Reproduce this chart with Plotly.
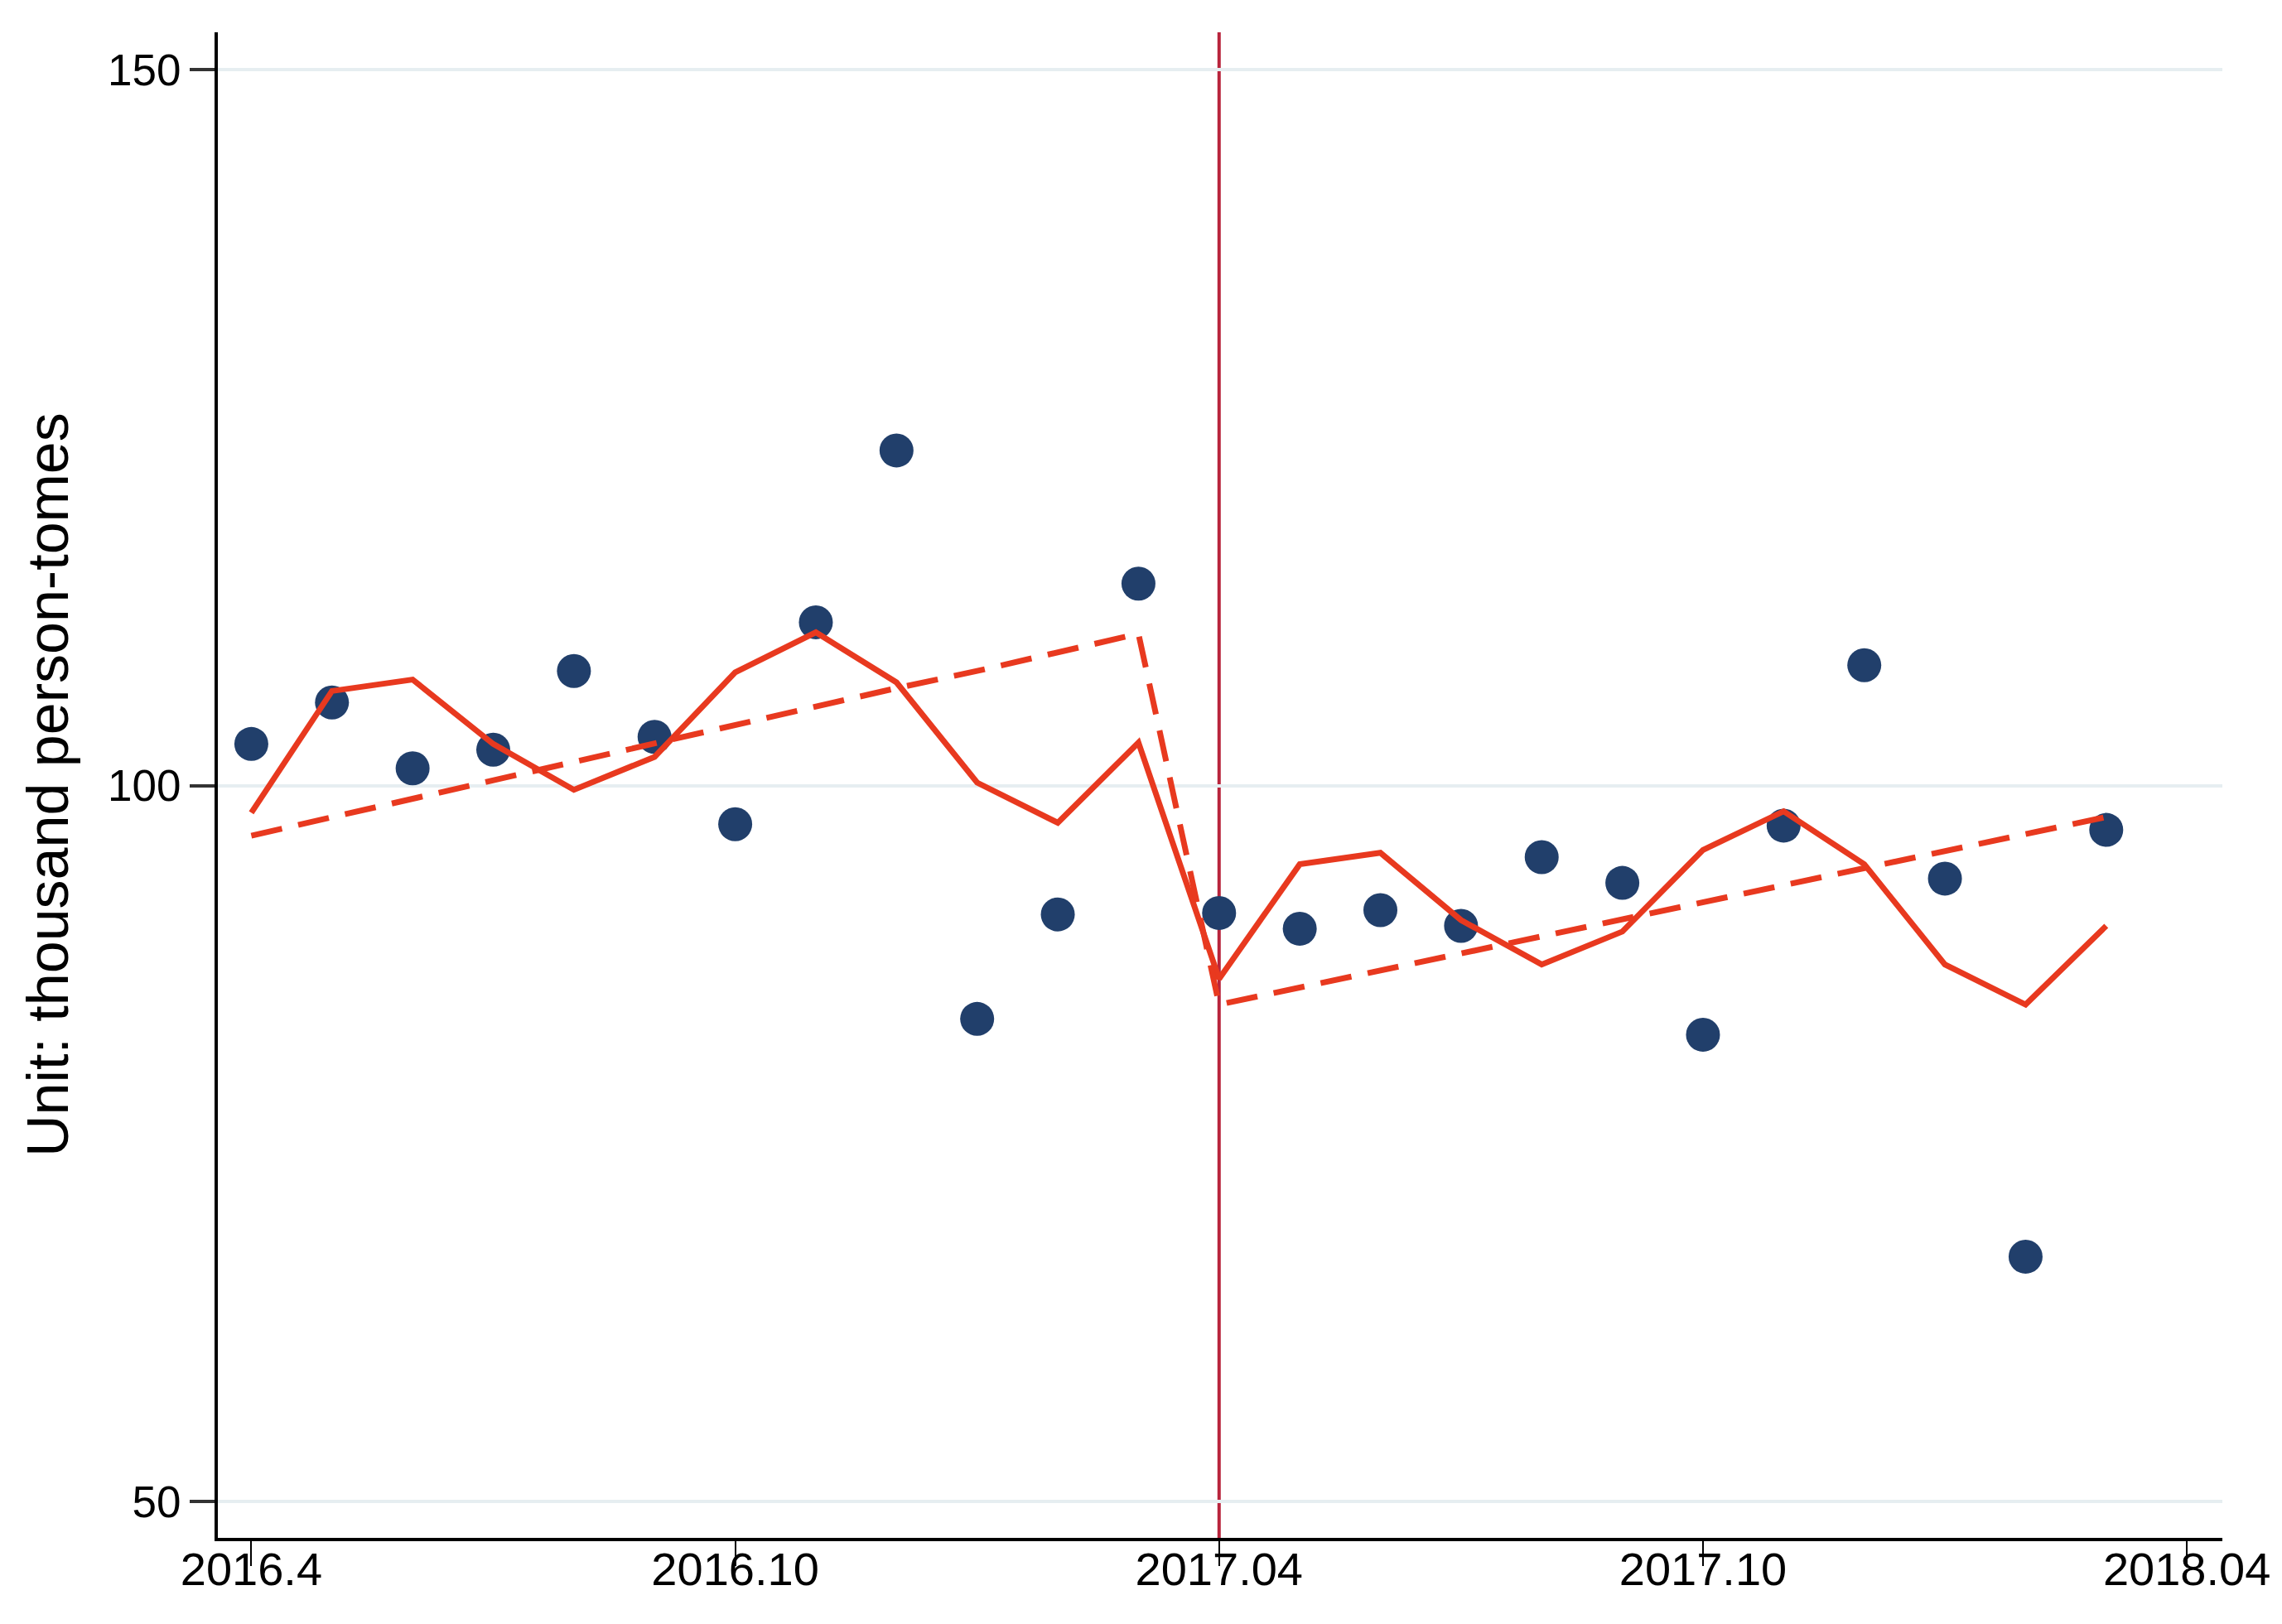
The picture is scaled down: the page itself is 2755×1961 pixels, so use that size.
import plotly.graph_objects as go

# ---- data ----
months = list(range(24))  # 2016.04 ... 2018.03
tick_positions = [0, 6, 12, 18, 24]
tick_labels = ["2016.4", "2016.10", "2017.04", "2017.10", "2018.04"]
y_ticks = [50, 100, 150]
cutoff_month = 12

observed = [102.9, 105.8, 101.2, 102.5, 108.0, 103.4, 97.3, 111.4, 123.4, 83.7, 91.0, 114.1,
            91.1, 90.0, 91.3, 90.2, 95.0, 93.2, 82.6, 97.2, 108.4, 93.5, 67.1, 96.9]
smoothed = [98.1, 106.6, 107.4, 102.9, 99.7, 102.0, 107.9, 110.7, 107.2, 100.2, 97.4, 103.0,
            86.5, 94.5, 95.3, 90.6, 87.5, 89.8, 95.5, 98.2, 94.5, 87.5, 84.7, 90.2]
fitted = [96.5, 97.8, 99.0, 100.3, 101.6, 102.9, 104.2, 105.5, 106.8, 108.0, 109.3, 110.6,
          84.7, 85.9, 87.1, 88.3, 89.5, 90.6, 91.8, 93.0, 94.2, 95.4, 96.6, 97.8]

RED = "#e8391f"
NAVY = "#213f6b"
FONT = "Liberation Sans, Arial, sans-serif"

fig = go.Figure()
fig.add_trace(go.Scatter(x=months, y=observed, mode="markers",
                         marker=dict(size=41, color=NAVY, line=dict(width=0)),
                         showlegend=False))
fig.add_trace(go.Scatter(x=months, y=smoothed, mode="lines",
                         line=dict(color=RED, width=7), showlegend=False))
fig.add_trace(go.Scatter(x=months, y=fitted, mode="lines",
                         line=dict(color=RED, width=7, dash="38px,20px"), showlegend=False))

fig.add_shape(type="line", x0=cutoff_month, x1=cutoff_month, y0=0, y1=1,
              xref="x", yref="paper", line=dict(color="#b8243c", width=4), layer="below")

fig.add_annotation(text="Unit: thousand person-tomes", xref="paper", yref="paper",
                   x=-0.0847, y=0.5, xanchor="center", yanchor="middle", textangle=-90,
                   showarrow=False, font=dict(family=FONT, size=70, color="#000000"))

fig.update_layout(
    width=2755, height=1961,
    margin=dict(l=263, r=72, t=39, b=104),
    paper_bgcolor="white", plot_bgcolor="white",
    font=dict(family=FONT, size=53, color="#000000"),
    showlegend=False,
)
fig.update_xaxes(range=[-0.415, 24.44], tickmode="array", tickvals=tick_positions,
                 ticktext=tick_labels, showgrid=False, zeroline=False,
                 showline=True, linecolor="#000000", linewidth=4,
                 ticks="outside", ticklen=30, tickwidth=2, tickcolor="#000000",
                 ticklabelstandoff=-44, tickfont=dict(family=FONT, size=56))
fig.update_yaxes(range=[47.46, 152.6], tickmode="array", tickvals=y_ticks,
                 showgrid=True, gridcolor="#e6eef1", gridwidth=4, zeroline=False,
                 showline=True, linecolor="#000000", linewidth=4,
                 ticks="outside", ticklen=30, tickwidth=4, tickcolor="#333333")

fig.write_html("out.html", config={"displayModeBar": False},
               post_script="document.body.style.margin='0';document.body.style.overflow='hidden';")
